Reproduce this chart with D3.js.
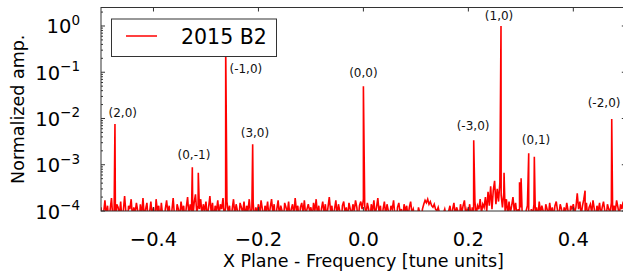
<!DOCTYPE html>
<html>
<head>
<meta charset="utf-8">
<script src="https://cdn.jsdelivr.net/npm/d3@7"></script>
<style>
  body { margin: 0; background: #fff; }
  svg { display: block; font-family: "DejaVu Sans", sans-serif; }
</style>
</head>
<body>
<div class="chartHolder"></div>
<script>
// spectrum data
const binStart = -0.5;
const binStep = 0.0025;
const noiseUnit = 1e-4;

// noise floor in units of 1e-4, one row per 0.1 tune band
const noiseFloor = [
  1.2, 0.6, 0.9, 1.7, 0.8, 1.3, 0.5, 1.1, 1.9, 0.7, 1.0, 0.6, 1.4, 1.2, 0.8, 1.6, 0.6, 1.0, 2.1, 0.9, 0.5, 1.3, 1.1, 1.8, 0.7, 1.2, 0.9, 1.5, 1.0, 0.5, 1.4, 0.8, 1.9, 0.7, 1.1, 1.5, 0.6, 0.9, 1.6, 0.8,
  1.2, 0.5, 1.8, 1.0, 1.3, 0.6, 1.5, 0.8, 0.4, 1.1, 1.7, 0.9, 1.3, 0.6, 1.0, 1.9, 0.8, 0.5, 1.4, 1.1, 0.7, 1.6, 1.0, 1.3, 0.6, 1.2, 2.0, 0.8, 1.4, 1.0, 0.7, 1.5, 2.3, 0.9, 1.3, 1.1, 1.8, 0.8, 1.4, 1.0,
  1.6, 0.7, 1.2, 2.1, 0.9, 1.5, 0.6, 1.3, 1.0, 1.7, 0.8, 1.4, 1.1, 1.9, 0.7, 1.2, 1.6, 0.9, 1.3, 0.5, 1.1, 1.8, 0.8, 1.4, 1.0, 0.6, 1.5, 1.2, 0.9, 1.6, 0.7, 1.3, 1.0, 1.8, 0.8, 1.1, 1.5, 0.6, 1.2, 0.9,
  1.4, 0.8, 1.7, 1.1, 0.6, 1.3, 1.0, 1.6, 0.7, 1.2, 1.8, 0.9, 1.4, 0.5, 1.1, 1.7, 0.8, 1.3, 1.0, 0.6, 1.5, 1.2, 0.9, 1.6, 0.7, 1.1, 1.4, 0.8, 1.9, 1.0, 1.3, 0.6, 1.2, 1.5, 0.9, 1.7, 0.8, 1.1, 1.4, 1.0,
  1.2, 0.7, 1.5, 1.0, 1.8, 0.8, 1.3, 0.5, 1.1, 1.6, 0.9, 1.4, 0.7, 1.2, 2.0, 1.0, 1.3, 0.6, 1.1, 1.7, 0.8, 1.4, 1.0, 0.5, 1.3, 1.6, 0.9, 1.2, 0.7, 1.5, 1.1, 0.8, 1.4, 1.0, 1.7, 1.2, 0.6, 1.3, 1.6, 1.1,
  1.8, 1.3, 0.8, 1.5, 1.1, 0.6, 1.4, 1.0, 1.7, 0.8, 1.2, 1.9, 0.9, 1.3, 0.5, 1.1, 1.6, 0.8, 1.4, 1.0, 0.7, 1.3, 1.1, 1.7, 0.8, 0.5, 1.2, 1.5, 0.9, 1.1, 0.6, 1.4, 1.0, 1.3, 0.7, 1.2, 1.6, 0.9, 1.1, 0.8,
  1.0, 0.7, 1.2, 0.9, 0.6, 1.1, 1.4, 1.7, 1.5, 1.8, 1.4, 1.6, 1.3, 1.2, 1.4, 1.1, 1.0, 1.2, 0.9, 0.8, 0.7, 0.9, 1.1, 0.8, 0.6, 1.0, 1.3, 0.7, 1.1, 1.5, 0.8, 1.2, 1.0, 0.6, 1.4, 0.9, 1.3, 1.7, 0.8, 1.1,
  0.9, 1.4, 0.7, 1.2, 1.0, 1.6, 0.8, 1.3, 1.1, 1.8, 0.9, 1.4, 1.2, 2.0, 1.0, 2.6, 1.3, 3.4, 1.1, 2.8, 4.5, 1.4, 3.0, 1.6, 4.0, 2.2, 1.2, 2.5, 1.0, 1.8, 0.8, 1.6, 0.9, 1.3, 2.0, 1.0, 1.5, 0.8, 1.1, 0.7,
  1.2, 0.9, 0.8, 0.7, 1.0, 1.3, 0.9, 0.6, 1.1, 0.8, 1.4, 1.0, 1.2, 0.7, 1.6, 0.9, 1.3, 1.0, 0.6, 1.4, 1.1, 0.8, 1.5, 0.9, 1.2, 0.7, 1.3, 1.6, 1.0, 0.8, 1.4, 1.1, 0.6, 1.2, 0.9, 1.5, 1.0, 0.7, 1.3, 1.1,
  1.4, 0.9, 1.2, 2.4, 1.1, 1.6, 0.8, 1.3, 1.8, 1.0, 1.5, 0.7, 1.2, 1.4, 0.9, 1.7, 1.1, 0.6, 1.3, 1.0, 1.5, 0.8, 1.2, 1.6, 1.0, 0.7, 1.4, 1.1, 0.9, 1.5, 0.8, 1.3, 1.0, 1.7, 1.2, 0.8, 1.4, 1.1, 1.6, 1.0, 1.3
];

// spectral lines
const peakFreq = [-0.4734, -0.3260, -0.3146, -0.2624, -0.2110, 0.0, 0.2102, 0.2622, 0.2680, 0.2975, 0.3005, 0.3150, 0.3257, 0.4224, 0.4732];
const peakAmp = [7.6e-3, 8.8e-4, 6.7e-4, 0.4, 2.77e-3, 0.050, 3.4e-3, 1.0, 6.7e-4, 4.2e-4, 5.1e-4, 1.77e-3, 1.49e-3, 2.75e-4, 9.8e-3];

// resonance labels (centre frequency, amplitude at baseline)
const labelText = ["(2,0)", "(-1,0)", "(3,0)", "(0,-1)", "(0,0)", "(1,0)", "(-3,0)", "(0,1)", "(-2,0)"];
const labelFreq = [-0.4585, -0.224, -0.2066, -0.3229, 0.0, 0.2585, 0.209, 0.329, 0.4586];
const labelAmp = [1.08e-2, 9.6e-2, 4.0e-3, 1.33e-3, 7.9e-2, 1.35, 5.6e-3, 2.8e-3, 1.77e-2];

const xTicks = [-0.4, -0.2, 0.0, 0.2, 0.4];
const yTickExp = [0, -1, -2, -3, -4];
const seriesName = "2015 B2";

// init variables
const width = 623;
const height = 276;
const plotLeft = 101, plotRight = 625.8, plotTop = 7.5, plotBottom = 211;

let svg = d3.select(".chartHolder")
  .append("svg")
  .attr("width", width)
  .attr("height", height);

let xScale = d3.scaleLinear().domain([-0.5, 0.5]).range([plotLeft, plotRight]);
let yScale = d3.scaleLog().domain([1e-4, 2.51]).range([plotBottom, plotTop]);

svg.append("clipPath")
  .attr("id", "plotClip")
  .append("rect")
  .attr("x", plotLeft)
  .attr("y", plotTop)
  .attr("width", plotRight - plotLeft)
  .attr("height", plotBottom - plotTop);

/* merge the noise bins with the spectral lines */
let points = noiseFloor.map((v, i) => [binStart + i * binStep, v * noiseUnit]);
peakFreq.forEach((f, i) => points.push([f, peakAmp[i]]));
points.sort((a, b) => a[0] - b[0]);

let line = d3.line()
  .x(d => xScale(d[0]))
  .y(d => yScale(d[1]));

svg.append("path")
  .datum(points)
  .attr("clip-path", "url(#plotClip)")
  .attr("fill", "none")
  .attr("stroke", "#ff0000")
  .attr("stroke-width", 1.6)
  .attr("d", line);

/* frame and ticks (inside, all four sides) */
let frame = svg.append("g").attr("stroke", "#333").attr("stroke-width", 1);

frame.append("rect")
  .attr("x", plotLeft)
  .attr("y", plotTop)
  .attr("width", plotRight - plotLeft)
  .attr("height", plotBottom - plotTop)
  .attr("fill", "none");

xTicks.forEach(t => {
  let x = xScale(t);
  frame.append("line").attr("x1", x).attr("x2", x).attr("y1", plotTop).attr("y2", plotTop + 4);
  frame.append("line").attr("x1", x).attr("x2", x).attr("y1", plotBottom).attr("y2", plotBottom - 4);
});

yTickExp.forEach(e => {
  let y = yScale(Math.pow(10, e));
  frame.append("line").attr("x1", plotLeft).attr("x2", plotLeft + 4).attr("y1", y).attr("y2", y);
  frame.append("line").attr("x1", plotRight).attr("x2", plotRight - 4).attr("y1", y).attr("y2", y);
  for (let m = 2; m <= 9; m++) {
    let v = m * Math.pow(10, e);
    if (v > yScale.domain()[1]) continue;
    let ym = yScale(v);
    frame.append("line").attr("x1", plotLeft).attr("x2", plotLeft + 2).attr("y1", ym).attr("y2", ym);
    frame.append("line").attr("x1", plotRight).attr("x2", plotRight - 2).attr("y1", ym).attr("y2", ym);
  }
});

/* tick labels */
let fmt = d3.format(".1f");
svg.append("g")
  .selectAll("text")
  .data(xTicks)
  .enter()
  .append("text")
  .attr("x", d => xScale(d))
  .attr("y", 245.5)
  .attr("text-anchor", "middle")
  .attr("font-size", 19.5)
  .attr("fill", "#000")
  .text(d => fmt(d));

let yLabels = svg.append("g")
  .selectAll("text")
  .data(yTickExp)
  .enter()
  .append("text")
  .attr("x", 80)
  .attr("y", d => yScale(Math.pow(10, d)) + 7.5)
  .attr("text-anchor", "end")
  .attr("font-size", 19.5)
  .attr("fill", "#000");

yLabels.append("tspan").text("10");
yLabels.append("tspan")
  .attr("font-size", 13.5)
  .attr("dy", -8.5)
  .text(d => d === 0 ? "0" : "\u2212" + Math.abs(d));

/* axis titles */
svg.append("text")
  .attr("x", (plotLeft + plotRight) / 2)
  .attr("y", 267)
  .attr("text-anchor", "middle")
  .attr("font-size", 17.5)
  .text("X Plane - Frequency [tune units]");

svg.append("text")
  .attr("transform", "translate(24," + ((plotTop + plotBottom) / 2) + ") rotate(-90)")
  .attr("text-anchor", "middle")
  .attr("font-size", 17.5)
  .text("Normalized amp.");

/* resonance labels */
svg.append("g")
  .selectAll("text")
  .data(labelText)
  .enter()
  .append("text")
  .attr("x", (d, i) => xScale(labelFreq[i]))
  .attr("y", (d, i) => yScale(labelAmp[i]))
  .attr("text-anchor", "middle")
  .attr("font-size", 12)
  .attr("fill", "#111")
  .text(d => d);

/* legend */
let legend = svg.append("g");
legend.append("rect")
  .attr("x", 111.5)
  .attr("y", 19)
  .attr("width", 165)
  .attr("height", 37.5)
  .attr("fill", "#fff")
  .attr("stroke", "#333")
  .attr("stroke-width", 1);
legend.append("line")
  .attr("x1", 126)
  .attr("x2", 157)
  .attr("y1", 36)
  .attr("y2", 36)
  .attr("stroke", "#ff0000")
  .attr("stroke-width", 1.5);
legend.append("text")
  .attr("x", 181)
  .attr("y", 44.3)
  .attr("font-size", 20.5)
  .text(seriesName);
</script>
</body>
</html>
